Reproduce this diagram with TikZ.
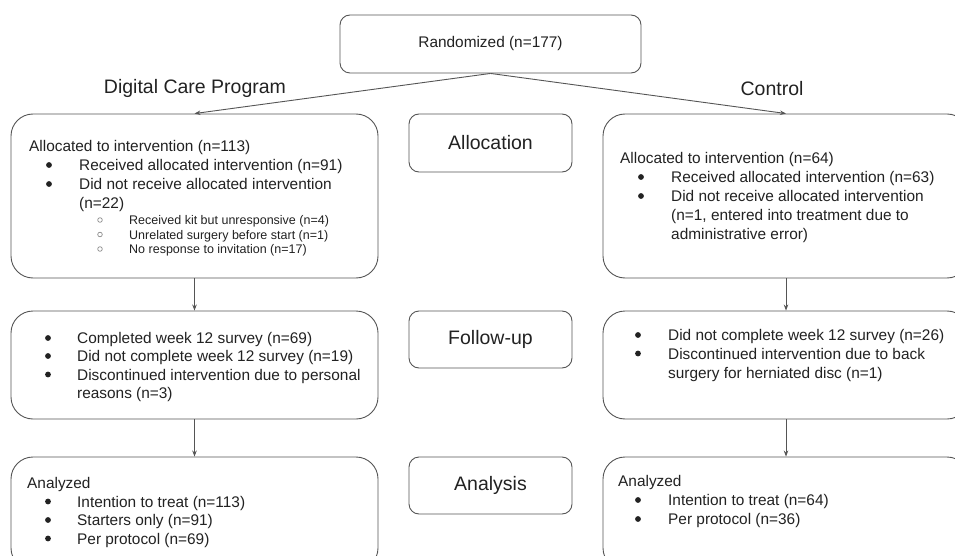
\documentclass[tikz,border=0pt]{standalone}
\usepackage{fontspec}
\setmainfont{Liberation Sans}
\usetikzlibrary{arrows.meta}
\definecolor{ln}{HTML}{555555}
\definecolor{tx}{HTML}{222222}
\definecolor{sub}{HTML}{8a8a8a}
\tikzset{
  box/.style={draw=ln, line width=0.9pt, inner sep=0pt},
  bigr/.style={box, rounded corners=22pt},
  smallr/.style={box, rounded corners=10pt},
  txt/.style={anchor=base west, yshift=-5.5pt, inner sep=0pt, text=tx, font=\fontsize{15.4}{18}\selectfont},
  sm/.style={anchor=base west, yshift=-4.5pt, inner sep=0pt, text=tx, font=\fontsize{12.5}{15}\selectfont},
  head/.style={inner sep=0pt, text=tx, font=\fontsize{19.5}{23}\selectfont},
  arr/.style={draw=ln, line width=0.9pt, -{Stealth[length=6pt,width=4.5pt]}},
}
\newcommand\mybul[2]{\fill[tx] (#1,#2) circle (2.9pt);}
\newcommand\mysub[2]{\draw[sub, line width=0.7pt] (#1,#2) circle (2.3pt);}
\begin{document}
\begin{tikzpicture}[x=1pt,y=-1pt]
\useasboundingbox (0,0) rectangle (955,556);
\clip (0,0) rectangle (955,556);
\fill[white] (0,0) rectangle (955,556);

% boxes
\node[smallr, minimum width=301pt, minimum height=58pt, font=\fontsize{15.4}{18}\selectfont, text=tx] (rand) at (490.5,44) {Randomized (n=177)};
\node[bigr, minimum width=367pt, minimum height=164pt] (alL) at (194.5,196) {};
\node[bigr, minimum width=366pt, minimum height=164pt] (alR) at (786,196) {};
\node[smallr, minimum width=163pt, minimum height=58pt, font=\fontsize{19.5}{23}\selectfont, text=tx] (alM) at (490.5,143) {Allocation};

\node[bigr, minimum width=367pt, minimum height=108pt] (fuL) at (194.5,365) {};
\node[bigr, minimum width=366pt, minimum height=108pt] (fuR) at (786,365) {};
\node[smallr, minimum width=163pt, minimum height=57pt, font=\fontsize{19.5}{23}\selectfont, text=tx] (fuM) at (490.5,339.5) {Follow-up};

\node[bigr, minimum width=367pt, minimum height=113pt] (anL) at (194.5,513.5) {};
\node[bigr, minimum width=366pt, minimum height=113pt] (anR) at (786,513.5) {};
\node[smallr, minimum width=163pt, minimum height=57pt, font=\fontsize{19.5}{23}\selectfont, text=tx] (anM) at (490.5,485.5) {Analysis};

% group headers
\node[head] (hL) at (195,88.5) {Digital Care Program};
\node[head] (hR) at (772,88.5) {Control};

% connectors
\draw[arr] (rand.south) -- (alL.north);
\draw[arr] (rand.south) -- (alR.north);
\draw[arr] (alL.south) -- (fuL.north);
\draw[arr] (alR.south) -- (fuR.north);
\draw[arr] (fuL.south) -- (anL.north);
\draw[arr] (fuR.south) -- (anR.north);

% allocation, left
\node[txt] (a1) at (29,146) {Allocated to intervention (n=113)};
\mybul{49}{165}
\node[txt] (a2) at (79,165) {Received allocated intervention (n=91)};
\mybul{49}{184}
\node[txt] (a3) at (79,184) {Did not receive allocated intervention};
\node[txt] (a4) at (79,203) {(n=22)};
\mysub{100}{220}
\node[sm] (a5) at (129,220) {Received kit but unresponsive (n=4)};
\mysub{100}{234.5}
\node[sm] (a6) at (129,234.5) {Unrelated surgery before start (n=1)};
\mysub{100}{249}
\node[sm] (a7) at (129,249) {No response to invitation (n=17)};

% allocation, right
\node[txt] (b1) at (620,158) {Allocated to intervention (n=64)};
\mybul{641}{177}
\node[txt] (b2) at (671,177) {Received allocated intervention (n=63)};
\mybul{641}{196}
\node[txt] (b3) at (671,196) {Did not receive allocated intervention};
\node[txt] (b4) at (671,215) {(n=1, entered into treatment due to};
\node[txt] (b5) at (671,234) {administrative error)};

% follow-up, left
\mybul{48}{338}
\node[txt] (c1) at (77,338) {Completed week 12 survey (n=69)};
\mybul{48}{356}
\node[txt] (c2) at (77,356) {Did not complete week 12 survey (n=19)};
\mybul{48}{374.5}
\node[txt] (c3) at (77,374.5) {Discontinued intervention due to personal};
\node[txt] (c4) at (77,393) {reasons (n=3)};

% follow-up, right
\mybul{638}{335}
\node[txt] (d1) at (668,335) {Did not complete week 12 survey (n=26)};
\mybul{638}{353.5}
\node[txt] (d2) at (668,353.5) {Discontinued intervention due to back};
\node[txt] (d3) at (668,372.5) {surgery for herniated disc (n=1)};

% analysis, left
\node[txt] (e1) at (27,482.5) {Analyzed};
\mybul{48}{501.5}
\node[txt] (e2) at (77,501.5) {Intention to treat (n=113)};
\mybul{48}{520}
\node[txt] (e3) at (77,520) {Starters only (n=91)};
\mybul{48}{538.5}
\node[txt] (e4) at (77,538.5) {Per protocol (n=69)};

% analysis, right
\node[txt] (f1) at (618,481) {Analyzed};
\mybul{638}{500}
\node[txt] (f2) at (668,500) {Intention to treat (n=64)};
\mybul{638}{519}
\node[txt] (f3) at (668,519) {Per protocol (n=36)};
\end{tikzpicture}
\end{document}
